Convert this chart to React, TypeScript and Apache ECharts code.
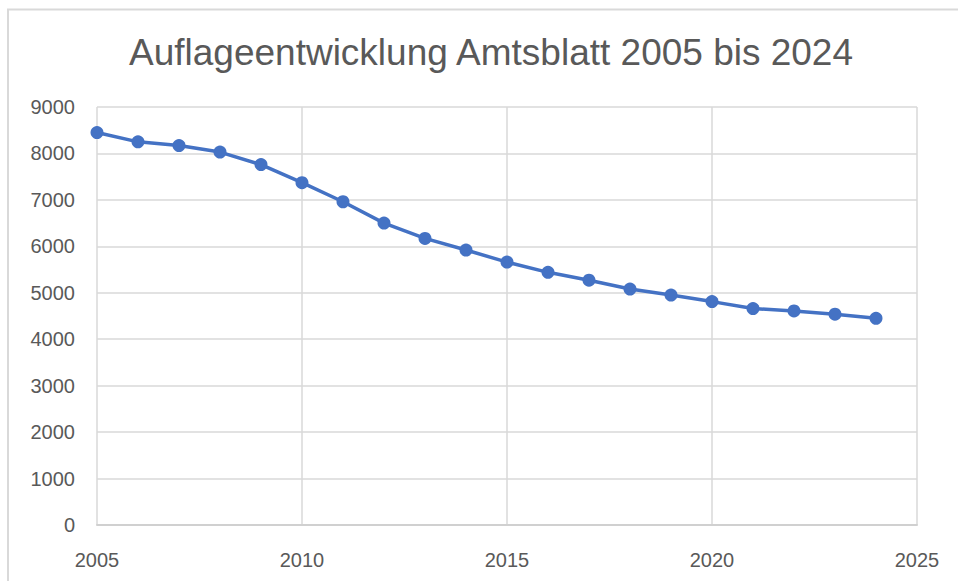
import React, { useEffect, useRef } from "react";
import * as echarts from "echarts";

const titleText = "Auflageentwicklung Amtsblatt 2005 bis 2024";
const years = [2005, 2006, 2007, 2008, 2009, 2010, 2011, 2012, 2013, 2014, 2015, 2016, 2017, 2018, 2019, 2020, 2021, 2022, 2023, 2024];
const circulation = [8450, 8250, 8170, 8030, 7760, 7370, 6960, 6500, 6170, 5920, 5660, 5440, 5270, 5080, 4950, 4810, 4660, 4610, 4540, 4450];

export default function App() {
  const ref = useRef<HTMLDivElement>(null);
  useEffect(() => {
    if (!ref.current) return;
    const chart = echarts.init(ref.current, null, { renderer: "svg" });
    const font = "'Liberation Sans', Arial, sans-serif";
    chart.setOption({
      animation: false,
      backgroundColor: "#ffffff",
      textStyle: { fontFamily: font },
      title: {
        text: titleText,
        left: 124,
        top: 29,
        textStyle: { fontFamily: font, fontSize: 37, fontWeight: "normal", color: "#595959" },
      },
      graphic: [
        {
          type: "rect",
          silent: true,
          shape: { x: 8, y: 9.5, width: 1200, height: 1000 },
          style: { fill: "none", stroke: "#d9d9d9", lineWidth: 2 },
        },
      ],
      grid: { left: 97, right: 41, top: 107, bottom: 56, containLabel: false },
      xAxis: {
        type: "value",
        min: 2005,
        max: 2025,
        interval: 5,
        axisLine: { show: true, lineStyle: { color: "#d0d0d0", width: 2 } },
        axisTick: { show: false },
        splitLine: { show: true, lineStyle: { color: "#d9d9d9", width: 1.5 } },
        axisLabel: {
          margin: 25,
          fontSize: 20,
          color: "#595959",
          fontFamily: font,
          formatter: (v: number) => String(v),
        },
      },
      yAxis: {
        type: "value",
        min: 0,
        max: 9000,
        interval: 1000,
        axisLine: { show: false },
        axisTick: { show: false },
        splitLine: { show: true, lineStyle: { color: "#d9d9d9", width: 1.5 } },
        axisLabel: {
          margin: 22,
          fontSize: 20,
          color: "#595959",
          fontFamily: font,
          formatter: (v: number) => String(v),
        },
      },
      series: [
        {
          type: "line",
          data: years.map((y, i) => [y, circulation[i]]),
          symbol: "circle",
          symbolSize: 13,
          lineStyle: { color: "#4472C4", width: 3.5 },
          itemStyle: { color: "#4472C4" },
        },
      ],
    });
    return () => chart.dispose();
  }, []);
  return (
    <div
      ref={ref}
      style={{ position: "absolute", left: 0, top: 0, width: 958, height: 581 }}
    />
  );
}
